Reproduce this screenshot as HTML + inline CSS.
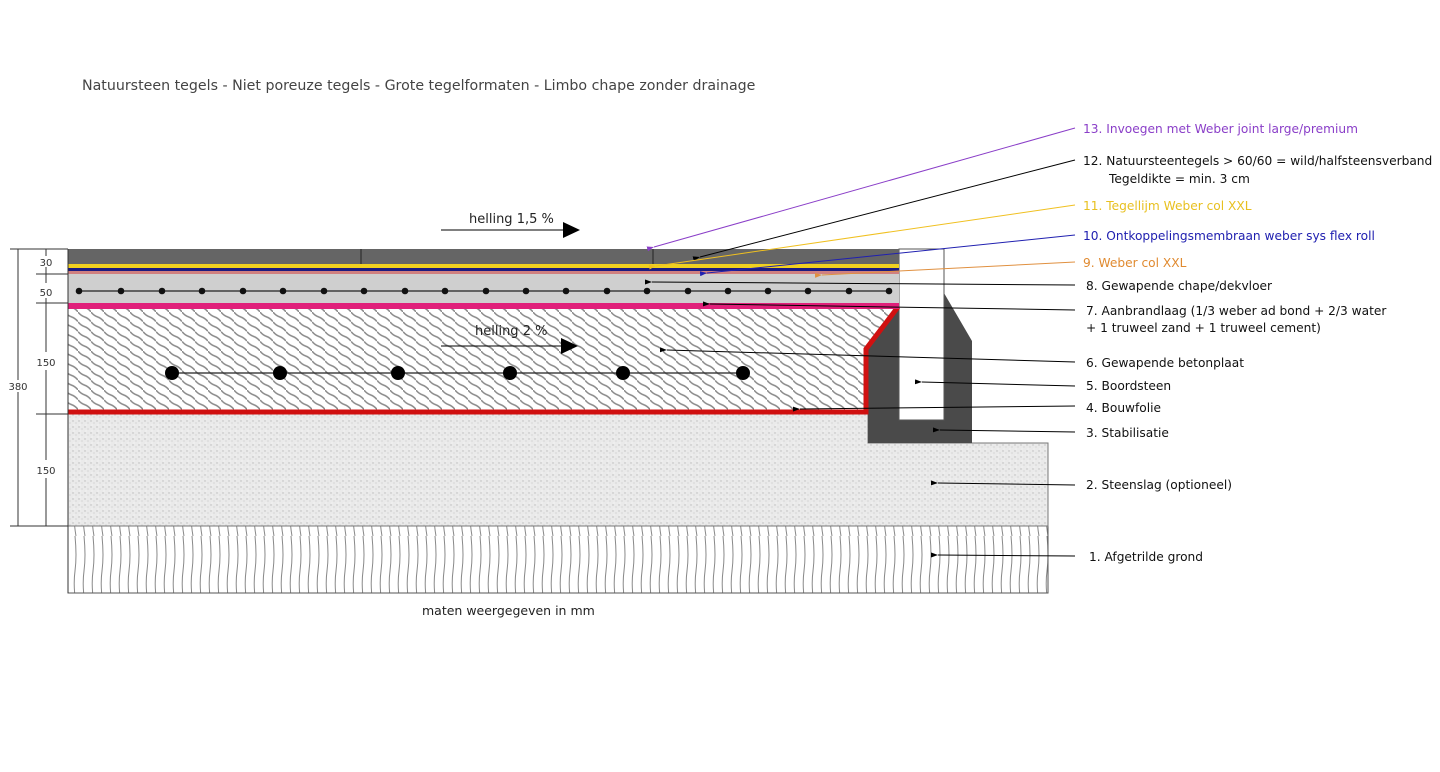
<!DOCTYPE html>
<html><head><meta charset="utf-8"><style>
html,body{margin:0;padding:0;background:#fff;}
svg{display:block;}
text{font-family:"DejaVu Sans","Liberation Sans",sans-serif;}
</style></head><body>
<svg width="1440" height="772" viewBox="0 0 1440 772" xmlns="http://www.w3.org/2000/svg">
<defs>
<pattern id="hatch" width="13" height="9.75" patternUnits="userSpaceOnUse">
<path d="M0,0 Q2.5,3.4 6.5,4.875 T13,9.75" stroke="#8a8a8a" stroke-width="1.5" fill="none"/>
</pattern>
<pattern id="gravel" width="6" height="6" patternUnits="userSpaceOnUse">
<rect width="6" height="6" fill="#eaeaea"/>
<circle cx="1" cy="1" r="0.7" fill="#bbb"/><circle cx="4" cy="3" r="0.6" fill="#c8c8c8"/><circle cx="2" cy="5" r="0.5" fill="#fff"/>
</pattern>
<pattern id="ground" width="9" height="67" patternUnits="userSpaceOnUse">
<path d="M3,0 Q5,20 3,35 T4,67" stroke="#888" stroke-width="1" fill="none"/>
</pattern>
<marker id="mk" markerWidth="7" markerHeight="5" refX="0" refY="2.5" orient="auto" markerUnits="userSpaceOnUse"><path d="M7,0 L0,2.5 L7,5 z" fill="#000"/></marker>
<marker id="mp" markerWidth="7" markerHeight="5" refX="0" refY="2.5" orient="auto" markerUnits="userSpaceOnUse"><path d="M7,0 L0,2.5 L7,5 z" fill="#8a3ec8"/></marker>
<marker id="my" markerWidth="7" markerHeight="5" refX="0" refY="2.5" orient="auto" markerUnits="userSpaceOnUse"><path d="M7,0 L0,2.5 L7,5 z" fill="#f0c020"/></marker>
<marker id="mb" markerWidth="7" markerHeight="5" refX="0" refY="2.5" orient="auto" markerUnits="userSpaceOnUse"><path d="M7,0 L0,2.5 L7,5 z" fill="#2020b0"/></marker>
<marker id="mo" markerWidth="7" markerHeight="5" refX="0" refY="2.5" orient="auto" markerUnits="userSpaceOnUse"><path d="M7,0 L0,2.5 L7,5 z" fill="#e09040"/></marker>
</defs>

<text x="82" y="90" font-size="14.2" fill="#444">Natuursteen tegels - Niet poreuze tegels - Grote tegelformaten - Limbo chape zonder drainage</text>

<rect x="68" y="526" width="980" height="67" fill="url(#ground)" stroke="#555"/>
<path d="M68,414 L868,414 L868,443 L1048,443 L1048,526 L68,526 Z" fill="url(#gravel)" stroke="#777"/>
<rect x="68" y="309" width="800" height="101" fill="url(#hatch)"/>
<path d="M868,309 L899,309 L868,350 L868,410 Z" fill="url(#hatch)"/>
<path d="M899,309 L868,350 L868,443 L972,443 L972,341 L944,293 L944,420 L899,420 Z" fill="#4a4a4a"/>
<rect x="899" y="249" width="45" height="171" fill="#fff" stroke="#555"/>
<path d="M68,412 L866,412 L866,349 L898,307" stroke="#d01010" stroke-width="5" fill="none"/>
<rect x="68" y="303" width="831" height="6" fill="#e0207a"/>
<rect x="68" y="274" width="831" height="29" fill="#cfcfcf"/>
<line x1="78" y1="291" x2="889" y2="291" stroke="#222" stroke-width="1.2"/>
<g fill="#111">
<circle cx="79" cy="291" r="3.3"/><circle cx="121" cy="291" r="3.3"/><circle cx="162" cy="291" r="3.3"/><circle cx="202" cy="291" r="3.3"/><circle cx="243" cy="291" r="3.3"/><circle cx="283" cy="291" r="3.3"/><circle cx="324" cy="291" r="3.3"/><circle cx="364" cy="291" r="3.3"/><circle cx="405" cy="291" r="3.3"/><circle cx="445" cy="291" r="3.3"/><circle cx="486" cy="291" r="3.3"/><circle cx="526" cy="291" r="3.3"/><circle cx="566" cy="291" r="3.3"/><circle cx="607" cy="291" r="3.3"/><circle cx="647" cy="291" r="3.3"/><circle cx="688" cy="291" r="3.3"/><circle cx="728" cy="291" r="3.3"/><circle cx="768" cy="291" r="3.3"/><circle cx="808" cy="291" r="3.3"/><circle cx="849" cy="291" r="3.3"/><circle cx="889" cy="291" r="3.3"/>
</g>
<rect x="68" y="271" width="831" height="3" fill="#d08080"/>
<rect x="68" y="268" width="831" height="3" fill="#1a1a80"/>
<rect x="68" y="264" width="831" height="4" fill="#f0d020"/>
<rect x="68" y="249" width="831" height="15" fill="#656565"/>
<line x1="361" y1="249" x2="361" y2="264" stroke="#222"/>
<line x1="653" y1="249" x2="653" y2="264" stroke="#222"/>
<line x1="68" y1="249" x2="68" y2="593" stroke="#333"/>

<line x1="172" y1="373" x2="743" y2="373" stroke="#222" stroke-width="1.2"/>
<g fill="#000"><circle cx="172" cy="373" r="7"/><circle cx="280" cy="373" r="7"/><circle cx="398" cy="373" r="7"/><circle cx="510" cy="373" r="7"/><circle cx="623" cy="373" r="7"/><circle cx="743" cy="373" r="7"/></g>

<text x="469" y="223" font-size="13" fill="#222">helling 1,5 %</text>
<line x1="441" y1="230" x2="565" y2="230" stroke="#000"/><path d="M563,222 L580,230 L563,238 Z" fill="#000"/>
<text x="475" y="335" font-size="13" fill="#222">helling 2 %</text>
<line x1="441" y1="346" x2="563" y2="346" stroke="#000"/><path d="M561,338 L578,346 L561,354 Z" fill="#000"/>

<g stroke="#333" stroke-width="1" fill="none">
<line x1="18" y1="249" x2="18" y2="526"/>
<line x1="10" y1="249" x2="68" y2="249"/><line x1="10" y1="526" x2="68" y2="526"/>
<line x1="36" y1="274" x2="68" y2="274"/><line x1="36" y1="303" x2="68" y2="303"/><line x1="36" y1="414" x2="68" y2="414"/>
<line x1="46" y1="249" x2="46" y2="256"/><line x1="46" y1="267" x2="46" y2="283"/><line x1="46" y1="298" x2="46" y2="352"/><line x1="46" y1="370" x2="46" y2="460"/><line x1="46" y1="478" x2="46" y2="526"/>
</g>
<g fill="#333" font-size="10" text-anchor="middle">
<text x="46" y="266">30</text><text x="46" y="296">50</text><text x="46" y="366">150</text><text x="46" y="474">150</text>
<rect x="4" y="380" width="28" height="12" fill="#fff"/><text x="18" y="390">380</text>
</g>

<g stroke-width="1" fill="none">
<line x1="1075" y1="128" x2="654" y2="247" stroke="#8a3ec8" marker-end="url(#mp)"/>
<line x1="1075" y1="160" x2="700" y2="257" stroke="#000" marker-end="url(#mk)"/>
<line x1="1075" y1="205" x2="656" y2="266" stroke="#f0c020" marker-end="url(#my)"/>
<line x1="1075" y1="235" x2="707" y2="273" stroke="#2020b0" marker-end="url(#mb)"/>
<line x1="1075" y1="262" x2="822" y2="275" stroke="#e09040" marker-end="url(#mo)"/>
<line x1="1075" y1="285" x2="652" y2="282" stroke="#000" marker-end="url(#mk)"/>
<line x1="1075" y1="310" x2="710" y2="304" stroke="#000" marker-end="url(#mk)"/>
<line x1="1075" y1="362" x2="667" y2="350" stroke="#000" marker-end="url(#mk)"/>
<line x1="1075" y1="386" x2="922" y2="382" stroke="#000" marker-end="url(#mk)"/>
<line x1="1075" y1="406" x2="800" y2="409" stroke="#000" marker-end="url(#mk)"/>
<line x1="1075" y1="432" x2="940" y2="430" stroke="#000" marker-end="url(#mk)"/>
<line x1="1075" y1="485" x2="938" y2="483" stroke="#000" marker-end="url(#mk)"/>
<line x1="1075" y1="556" x2="938" y2="555" stroke="#000" marker-end="url(#mk)"/>
</g>
<g font-size="12.2">
<text x="1083" y="133" fill="#8a3ec8">13. Invoegen met Weber joint large/premium</text>
<text x="1083" y="165" fill="#111">12. Natuursteentegels &gt; 60/60 = wild/halfsteensverband</text>
<text x="1109" y="183" fill="#111">Tegeldikte = min. 3 cm</text>
<text x="1083" y="210" fill="#e8c020">11. Tegellijm Weber col XXL</text>
<text x="1083" y="240" fill="#2020b0">10. Ontkoppelingsmembraan weber sys flex roll</text>
<text x="1083" y="267" fill="#e08a30">9. Weber col XXL</text>
<text x="1086" y="290" fill="#111">8. Gewapende chape/dekvloer</text>
<text x="1086" y="315" fill="#111">7. Aanbrandlaag (1/3 weber ad bond + 2/3 water</text>
<text x="1086" y="332" fill="#111">+ 1 truweel zand + 1 truweel cement)</text>
<text x="1086" y="367" fill="#111">6. Gewapende betonplaat</text>
<text x="1086" y="390" fill="#111">5. Boordsteen</text>
<text x="1086" y="412" fill="#111">4. Bouwfolie</text>
<text x="1086" y="437" fill="#111">3. Stabilisatie</text>
<text x="1086" y="489" fill="#111">2. Steenslag (optioneel)</text>
<text x="1089" y="561" fill="#111">1. Afgetrilde grond</text>
</g>
<text x="422" y="615" font-size="12.5" fill="#222">maten weergegeven in mm</text>
</svg>
</body></html>
